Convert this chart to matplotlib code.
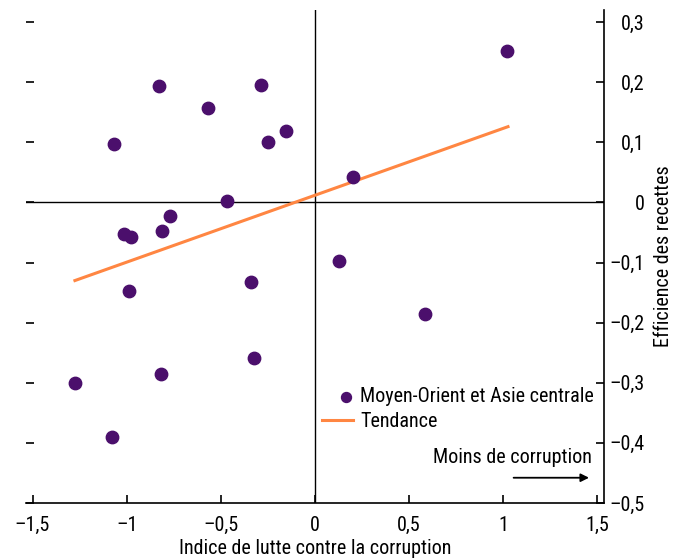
import matplotlib
matplotlib.use("Agg")
import matplotlib.pyplot as plt
from matplotlib import font_manager
from matplotlib.collections import PathCollection
from matplotlib.legend_handler import HandlerPathCollection


def pick_narrow_font():
    # look for a narrow / condensed regular sans among installed fonts
    prefs = ["Liberation Sans Narrow", "Roboto", "Noto Sans", "Open Sans", "DejaVu Sans"]
    found = []
    for f in font_manager.fontManager.ttflist:
        narrow = ("Narrow" in f.name or "Condensed" in f.name
                  or "condensed" in str(f.stretch))
        if not narrow or f.style != "normal":
            continue
        if str(f.weight) not in ("400", "normal", "regular", "book"):
            continue
        if "extra" in str(f.stretch) or "ultra" in str(f.stretch):
            continue
        rank = len(prefs)
        for i, p in enumerate(prefs):
            if f.name.startswith(p):
                rank = i
                break
        found.append((rank, f.name, f.stretch))
    if not found:
        return "Liberation Sans", "normal"
    found.sort()
    return found[0][1], found[0][2]


family, stretch = pick_narrow_font()
plt.rcParams['font.family'] = [family, 'DejaVu Sans']
plt.rcParams['font.stretch'] = stretch

corruption = [1.02, -0.828, -0.287, -0.568, -1.067, -0.25, -0.154, 0.2, -0.467, -0.77,
              -1.014, -0.977, -0.813, 0.127, -0.988, -0.34, 0.584, -0.324, -0.818,
              -1.275, -1.078]
efficience = [0.252, 0.193, 0.195, 0.157, 0.097, 0.1, 0.118, 0.042, 0.003, -0.023,
              -0.052, -0.058, -0.047, -0.098, -0.147, -0.133, -0.185, -0.258, -0.285,
              -0.3, -0.39]
trend_x = [-1.275, 1.025]
trend_y = [-0.13, 0.126]

xticks = [-1.5, -1, -0.5, 0, 0.5, 1, 1.5]
yticks = [0.3, 0.2, 0.1, 0, -0.1, -0.2, -0.3, -0.4, -0.5]


def fr(v):
    s = ("%g" % v).replace(".", ",")
    return s.replace("-", "\u2013")


class RightMarker(HandlerPathCollection):
    # put the legend dot near the text instead of in the middle of the handle
    def get_xdata(self, legend, xdescent, ydescent, width, height, fontsize):
        return [-xdescent, -xdescent + width], [-xdescent + 0.78 * width]


def main():
    fig = plt.figure(figsize=(6.78, 5.58), dpi=100)
    ax = fig.add_axes([0.0383, 0.0986, 0.8526, 0.8834])
    ax.set_xlim(-1.535, 1.535)
    ax.set_ylim(-0.5, 0.32)

    ax.axhline(0, color="black", lw=1, zorder=1)
    ax.axvline(0, color="black", lw=1, zorder=1)

    ax.scatter(corruption, efficience, s=80, color="#4b0f6c", zorder=3,
               label="Moyen-Orient et Asie centrale")
    ax.plot(trend_x, trend_y, color="#ff8642", lw=2.2, zorder=2, label="Tendance")

    ax.spines["top"].set_visible(False)
    ax.spines["left"].set_visible(False)
    for s in ("bottom", "right"):
        ax.spines[s].set_linewidth(1.2)

    fs = 14.5
    ax.set_xticks(xticks)
    ax.set_xticklabels([fr(v) for v in xticks], fontsize=fs)
    ax.set_yticks(yticks)
    ax.set_yticklabels([fr(v) for v in yticks], fontsize=fs, ha="right")
    ax.tick_params(axis="both", direction="in", length=6, width=1.2)
    ax.tick_params(axis="y", left=True, right=True, labelleft=False, labelright=True, pad=29)
    ax.tick_params(axis="x", pad=9.5)

    ax.set_xlabel("Indice de lutte contre la corruption", fontsize=fs, labelpad=3)
    ax.yaxis.set_label_position("right")
    ax.set_ylabel("Efficience des recettes", fontsize=fs, labelpad=7)

    ax.legend(loc="lower right", bbox_to_anchor=(1.0, 0.125), frameon=False,
              fontsize=14.5, handlelength=1.55, handletextpad=0.35, borderpad=0,
              labelspacing=0.3, markerscale=0.8,
              handler_map={PathCollection: RightMarker()})

    ax.text(1.47, -0.425, "Moins de corruption", fontsize=fs, ha="right", va="center")
    ax.annotate("", xy=(1.47, -0.458), xytext=(1.04, -0.458),
                arrowprops=dict(arrowstyle="-|>", color="black", lw=1.3,
                                mutation_scale=12))

    fig.savefig("out.png", dpi=100)


if __name__ == "__main__": main()
